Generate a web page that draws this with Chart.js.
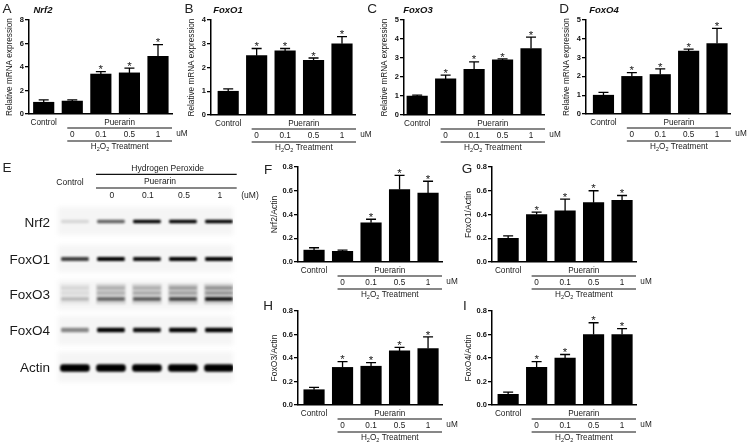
<!DOCTYPE html>
<html lang="en">
<head>
<meta charset="UTF-8">
<title>Puerarin H2O2 expression panels</title>
<script src="https://cdn.jsdelivr.net/npm/chart.js"></script>
<style>
    html, body { margin: 0; padding: 0; background: #fff; overflow: hidden; }
    body { width: 750px; height: 448px; position: relative; font-family: 'Liberation Sans', sans-serif; }
    canvas { position: absolute; filter: blur(0.3px); }
    .letter { position: absolute; font-size: 13.5px; color: #222; transform: translate(-50%, -50%); }
    .gene { position: absolute; font-size: 9.5px; font-weight: bold; font-style: italic; color: #111; transform: translate(-50%, -50%); }
</style>
</head>
<body>
<script>
    // bar heights and top of error bar
    const nrf2Mrna = [1.0, 1.1, 3.4, 3.5, 4.9];
    const nrf2MrnaTop = [1.2, 1.2, 3.6, 3.9, 5.9];
    const foxo1Mrna = [1.0, 2.5, 2.7, 2.3, 3.0];
    const foxo1MrnaTop = [1.1, 2.8, 2.8, 2.4, 3.3];
    const foxo3Mrna = [1.0, 1.9, 2.4, 2.9, 3.5];
    const foxo3MrnaTop = [1.05, 2.1, 2.8, 2.95, 4.1];
    const foxo4Mrna = [1.0, 2.0, 2.1, 3.35, 3.75];
    const foxo4MrnaTop = [1.15, 2.2, 2.4, 3.45, 4.55];

    const nrf2Actin = [0.10, 0.09, 0.33, 0.61, 0.58];
    const nrf2ActinTop = [0.12, 0.10, 0.36, 0.73, 0.68];
    const foxo1Actin = [0.20, 0.40, 0.43, 0.50, 0.52];
    const foxo1ActinTop = [0.22, 0.42, 0.53, 0.60, 0.56];
    const foxo3Actin = [0.13, 0.32, 0.33, 0.46, 0.48];
    const foxo3ActinTop = [0.15, 0.37, 0.36, 0.49, 0.58];
    const foxo4Actin = [0.09, 0.32, 0.40, 0.60, 0.60];
    const foxo4ActinTop = [0.11, 0.37, 0.43, 0.70, 0.65];

    const starsFromTwo = [0, 0, 1, 1, 1];
    const starsFromOne = [0, 1, 1, 1, 1];
    const doseLabels = ['0', '0.1', '0.5', '1'];
    const actinTicks = v => v.toFixed(1);

    // blot: band position on the gel (0 top, 180 bottom), thickness, darkness per lane
    const blotLanes = [0, 1, 2, 3, 4];
    const blotRowNames = ['Nrf2', 'FoxO1', 'FoxO3', 'FoxO4', 'Actin'];
    const blotRowCentres = [19, 56, 91, 127, 164];
    const blotRowBoxes = [[2, 30], [40, 67], [75, 105], [111, 140], [147, 177]];
    const nrf2Band = [0.12, 0.6, 1.0, 1.0, 1.0];
    const foxo1Band = [0.75, 1.0, 0.95, 1.0, 1.0];
    const foxo3Smear = [0.05, 0.13, 0.13, 0.15, 0.16];
    const foxo3Upper = [0.08, 0.2, 0.2, 0.28, 0.32];
    const foxo3Middle = [0.06, 0.18, 0.22, 0.25, 0.3];
    const foxo3Lower = [0.2, 0.55, 0.6, 0.7, 0.95];
    const foxo4Band = [0.45, 1.0, 0.95, 1.0, 1.0];
    const actinBand = [1, 1, 1, 1, 1];

    const labelColor = '#1a1a1a';

    function put(ctx, text, x, y, size, align, weight) {
        ctx.font = (weight || 'normal') + ' ' + size + 'px "Liberation Sans"';
        ctx.fillStyle = labelColor;
        ctx.textAlign = align || 'center';
        ctx.textBaseline = 'middle';
        ctx.fillText(text, x, y);
    }

    function putTreatment(ctx, cx, y) {
        const parts = [['H', 8.2, 0], ['2', 5.5, 2.5], ['O', 8.2, 0], ['2', 5.5, 2.5], [' Treatment', 8.2, 0]];
        let w = 0;
        parts.forEach(p => { ctx.font = p[1] + 'px "Liberation Sans"'; w += ctx.measureText(p[0]).width; });
        let x = cx - w / 2;
        parts.forEach(p => {
            put(ctx, p[0], x, y + p[2], p[1], 'left');
            x += ctx.measureText(p[0]).width;
        });
    }

    function hline(ctx, x1, x2, y, width) {
        ctx.strokeStyle = '#111';
        ctx.lineWidth = width || 1.2;
        ctx.beginPath();
        ctx.moveTo(x1, y);
        ctx.lineTo(x2, y);
        ctx.stroke();
    }

    // error bars, asterisks and the treatment key under the axis
    const barExtras = {
        id: 'barExtras',
        afterDatasetsDraw(chart, args, opts) {
            const { ctx, scales: { x, y } } = chart;
            ctx.save();
            opts.tops.forEach((top, i) => {
                const px = x.getPixelForValue(i);
                const py = y.getPixelForValue(top);
                ctx.strokeStyle = '#000';
                ctx.lineWidth = 1.3;
                ctx.beginPath();
                ctx.moveTo(px, y.getPixelForValue(opts.means[i]));
                ctx.lineTo(px, py);
                ctx.moveTo(px - 5, py);
                ctx.lineTo(px + 5, py);
                ctx.stroke();
                if (opts.stars[i]) put(ctx, '*', px, py - 1.5, 11.5, 'center');
            });
            const zero = y.getPixelForValue(0);
            const first = x.getPixelForValue(1);
            const last = x.getPixelForValue(4);
            const lineStart = first - 5;
            const lineEnd = last + 14;
            const mid = (lineStart + lineEnd) / 2;
            put(ctx, 'Control', x.getPixelForValue(0), zero + 8.5, 8.2);
            put(ctx, 'Puerarin', mid, zero + 9, 8.2);
            hline(ctx, lineStart, lineEnd, zero + 14);
            doseLabels.forEach((d, i) => put(ctx, d, x.getPixelForValue(i + 1), zero + 21, 8.2));
            hline(ctx, lineStart, lineEnd, zero + 27);
            putTreatment(ctx, mid, zero + 32.5);
            put(ctx, 'uM', last + 24, zero + 20, 8.2);
            ctx.restore();
        }
    };

    function barPanel(p) {
        const pitch = (p.lastBar - p.firstBar) / 4;
        const left = p.axis - 31;
        const right = p.lastBar + 36;
        const canvas = document.createElement('canvas');
        canvas.width = right - left;
        canvas.height = p.zero - p.top + 50;
        canvas.style.left = left + 'px';
        canvas.style.top = (p.top - 10) + 'px';
        document.body.appendChild(canvas);
        new Chart(canvas, {
            type: 'bar',
            data: {
                datasets: [{
                    data: p.means.map((v, i) => ({ x: i, y: v })),
                    backgroundColor: '#000',
                    barThickness: 20.5
                }]
            },
            options: {
                responsive: false,
                animation: false,
                layout: { padding: { top: 10, bottom: 40, left: 0, right: right - p.end } },
                plugins: {
                    legend: { display: false },
                    tooltip: { enabled: false },
                    barExtras: { means: p.means, tops: p.tops, stars: p.stars }
                },
                scales: {
                    x: {
                        type: 'linear',
                        offset: false,
                        min: -(p.firstBar - p.axis) / pitch,
                        max: 4 + (p.end - p.lastBar) / pitch,
                        grid: { display: false },
                        ticks: { display: false },
                        border: { color: '#000', width: 1.5 },
                        afterFit: s => { s.height = 0; }
                    },
                    y: {
                        min: 0,
                        max: p.max,
                        afterFit: s => { s.width = 31; },
                        title: {
                            display: true,
                            text: p.yTitle,
                            color: labelColor,
                            font: { family: 'Liberation Sans', size: p.titleSize },
                            padding: { top: p.titlePad, bottom: 0 }
                        },
                        grid: { drawOnChartArea: false, color: '#000', lineWidth: 1.3, tickLength: 4 },
                        border: { color: '#000', width: 1.5 },
                        ticks: {
                            stepSize: p.step,
                            padding: 1,
                            color: '#111',
                            font: { family: 'Liberation Sans', size: 7.5, weight: 'bold' },
                            callback: p.format
                        }
                    }
                }
            },
            plugins: [barExtras]
        });
    }

    const mrnaTitle = 'Relative mRNA expression';
    const intTick = v => String(v);
    barPanel({ means: nrf2Mrna, tops: nrf2MrnaTop, stars: starsFromTwo, max: 8, step: 2, format: intTick, yTitle: mrnaTitle, titleSize: 8.2, titlePad: 7, axis: 29, top: 20, zero: 114, firstBar: 43.7, lastBar: 158, end: 172 });
    barPanel({ means: foxo1Mrna, tops: foxo1MrnaTop, stars: starsFromOne, max: 4, step: 1, format: intTick, yTitle: mrnaTitle, titleSize: 8.2, titlePad: 7, axis: 211, top: 20, zero: 115.3, firstBar: 228.2, lastBar: 342, end: 355 });
    barPanel({ means: foxo3Mrna, tops: foxo3MrnaTop, stars: starsFromOne, max: 5, step: 1, format: intTick, yTitle: mrnaTitle, titleSize: 8.2, titlePad: 7, axis: 404.3, top: 20, zero: 115.3, firstBar: 417.5, lastBar: 531.5, end: 545 });
    barPanel({ means: foxo4Mrna, tops: foxo4MrnaTop, stars: starsFromOne, max: 5, step: 1, format: intTick, yTitle: mrnaTitle, titleSize: 8.2, titlePad: 7, axis: 585.7, top: 19.5, zero: 114, firstBar: 603.2, lastBar: 717, end: 730 });
    barPanel({ means: nrf2Actin, tops: nrf2ActinTop, stars: starsFromTwo, max: 0.8, step: 0.2, format: actinTicks, yTitle: 'Nrf2/Actin', titleSize: 8.5, titlePad: 3, axis: 297.7, top: 166.7, zero: 261.7, firstBar: 313.8, lastBar: 428.2, end: 442.3 });
    barPanel({ means: foxo1Actin, tops: foxo1ActinTop, stars: starsFromOne, max: 0.8, step: 0.2, format: actinTicks, yTitle: 'FoxO1/Actin', titleSize: 8.5, titlePad: 3, axis: 492.3, top: 166.7, zero: 261.7, firstBar: 508.5, lastBar: 622.8, end: 637 });
    barPanel({ means: foxo3Actin, tops: foxo3ActinTop, stars: starsFromOne, max: 0.8, step: 0.2, format: actinTicks, yTitle: 'FoxO3/Actin', titleSize: 8.5, titlePad: 3, axis: 297.7, top: 311, zero: 405.7, firstBar: 313.8, lastBar: 428.2, end: 442.3 });
    barPanel({ means: foxo4Actin, tops: foxo4ActinTop, stars: starsFromOne, max: 0.8, step: 0.2, format: actinTicks, yTitle: 'FoxO4/Actin', titleSize: 8.5, titlePad: 3, axis: 492.3, top: 311, zero: 405.7, firstBar: 508.5, lastBar: 622.8, end: 637 });

    // blot panel: each track is a dataset of floating bars, softened while drawing
    function track(pos, thick, darkness, width, radius) {
        return {
            data: blotLanes.map(l => ({ x: l, y: [pos - thick / 2, pos + thick / 2] })),
            backgroundColor: darkness.map(d => 'rgba(0,0,0,' + d + ')'),
            barThickness: width || 27,
            borderRadius: radius || 1,
            borderSkipped: false,
            grouped: false
        };
    }

    const blotDecor = {
        id: 'blotDecor',
        beforeDatasetsDraw(chart) {
            const { ctx, chartArea: a, scales: { y } } = chart;
            ctx.save();
            ctx.fillStyle = '#f5f5f5';
            ctx.filter = 'blur(2px)';
            blotRowBoxes.forEach(b => {
                const t = y.getPixelForValue(b[0]);
                ctx.fillRect(a.left, t, a.right - a.left, y.getPixelForValue(b[1]) - t);
            });
            ctx.filter = 'blur(0.8px)';
        },
        afterDatasetsDraw(chart) {
            const { ctx, scales: { x, y } } = chart;
            ctx.restore();
            ctx.save();
            blotRowNames.forEach((n, i) => put(ctx, n, 50, y.getPixelForValue(blotRowCentres[i]) - 0.5, 13.5, 'right'));
            put(ctx, 'Control', 70, 22.7, 8.5);
            put(ctx, 'Hydrogen Peroxide', 167.7, 8.3, 8.5);
            hline(ctx, 96, 236.7, 14.3);
            put(ctx, 'Puerarin', 160, 21.3, 8.5);
            hline(ctx, 96, 236.7, 28);
            doseLabels.forEach((d, i) => put(ctx, d, x.getPixelForValue(i + 1) + 1, 35.5, 8.5));
            put(ctx, '(uM)', 250, 35.5, 8.5);
            ctx.restore();
        }
    };

    const blotCanvas = document.createElement('canvas');
    blotCanvas.width = 265;
    blotCanvas.height = 226;
    blotCanvas.style.left = '0px';
    blotCanvas.style.top = '160px';
    document.body.appendChild(blotCanvas);
    new Chart(blotCanvas, {
        type: 'bar',
        data: {
            datasets: [
                track(16.5, 3, nrf2Band),
                track(54, 3.2, foxo1Band),
                track(89, 20, foxo3Smear, 29),
                track(83, 2.5, foxo3Upper),
                track(88, 2.5, foxo3Middle),
                track(94, 2.6, foxo3Lower),
                track(125, 4, foxo4Band),
                track(163, 7, actinBand, 29, 3)
            ]
        },
        options: {
            responsive: false,
            animation: false,
            layout: { padding: { left: 58, top: 45, right: 32, bottom: 1 } },
            plugins: { legend: { display: false }, tooltip: { enabled: false } },
            scales: {
                x: { type: 'linear', offset: false, min: -0.47, max: 4.39, display: false },
                y: { type: 'linear', min: 0, max: 180, reverse: true, display: false }
            }
        },
        plugins: [blotDecor]
    });

    // panel letters and gene names
    const panelLetters = [['A', 7, 8], ['B', 189, 8], ['C', 372, 8], ['D', 564, 8], ['E', 7, 167], ['F', 268, 169], ['G', 467, 168], ['H', 268, 305], ['I', 465, 305]];
    const geneTitles = [['Nrf2', 43, 9], ['FoxO1', 228, 9], ['FoxO3', 418, 9], ['FoxO4', 604, 9]];
    function tag(cls, t) {
        const d = document.createElement('div');
        d.className = cls;
        d.textContent = t[0];
        d.style.left = t[1] + 'px';
        d.style.top = t[2] + 'px';
        document.body.appendChild(d);
    }
    panelLetters.forEach(t => tag('letter', t));
    geneTitles.forEach(t => tag('gene', t));
</script>
</body>
</html>
